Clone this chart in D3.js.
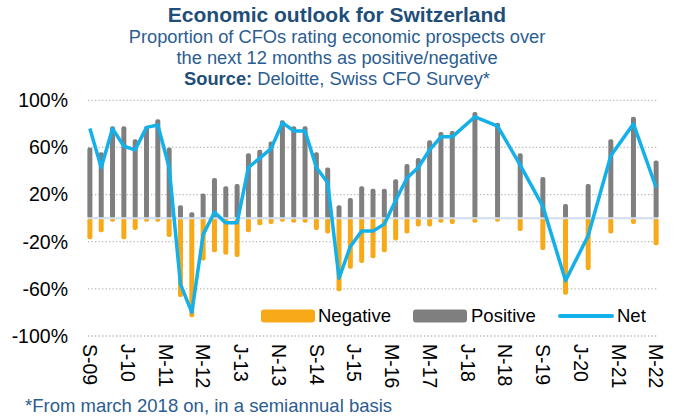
<!DOCTYPE html>
<html>
<head>
<meta charset="utf-8">
<script src="https://cdn.jsdelivr.net/npm/d3@7"></script>
<style>
  body { margin: 0; background: #fff; }
  svg { display: block; font-family: "Liberation Sans", Arial, sans-serif; }
</style>
</head>
<body>
<div id="chart"></div>
<script>
// survey dates (quarterly until Sep 2017, semiannual from Mar 2018)
const dates = [
  "2009-09","2009-12","2010-03","2010-06","2010-09","2010-12","2011-03","2011-06","2011-09","2011-12",
  "2012-03","2012-06","2012-09","2012-12","2013-03","2013-06","2013-09","2013-12","2014-03","2014-06",
  "2014-09","2014-12","2015-03","2015-06","2015-09","2015-12","2016-03","2016-06","2016-09","2016-12",
  "2017-03","2017-06","2017-09","2018-03","2018-09","2019-03","2019-09","2020-03","2020-09","2021-03",
  "2021-09","2022-03"
];
const positive = [60,56,78,78,67,78,84,60,11,5,21,34,27,29,55,58,65,83,78,78,56,43,11,17,27,25,25,33,46,51,66,73,74,90,81,55,35,12,29,67,86,49];
const negative = [-18,-12,-3,-18,-10,-3,-3,-16,-67,-84,-36,-29,-31,-33,-12,-6,-5,-3,-4,-4,-10,-13,-62,-43,-38,-34,-29,-19,-13,-7,-7,-4,-5,-4,-3,-11,-27,-65,-44,-13,-5,-23];
const net = [76,43,76,61,58,77,79,43,-56,-80,-14,5,-4,-4,43,51,59,81,74,74,43,30,-51,-24,-11,-11,-5,15,34,43,58,69,69,86,78,45,10,-53,-15,53,80,26];

const tickDates = ["2009-09","2010-07","2011-05","2012-03","2013-01","2013-11","2014-09","2015-07","2016-05","2017-03","2018-01","2018-11","2019-09","2020-07","2021-05","2022-03"];
const tickLabels = ["S-09","J-10","M-11","M-12","J-13","N-13","S-14","J-15","M-16","M-17","J-18","N-18","S-19","J-20","M-21","M-22"];
const yTicks = [-100, -60, -20, 20, 60, 100];

const width = 676, height = 416;
const blue = "#1f4e79";

const svg = d3.select("#chart").append("svg")
  .attr("width", width)
  .attr("height", height);

// month count since Sep 2009 (date axis, one unit per month)
const parse = d3.timeParse("%Y-%m");
const start = parse(dates[0]);
const monthIdx = s => d3.timeMonth.count(start, parse(s));

const x = d3.scaleLinear().domain([-0.5, 150.5]).range([88, 658]);
const y = d3.scaleLinear().domain([-100, 100]).range([336, 100.3]);

// titles
const title = svg.append("g").attr("text-anchor", "middle");
title.append("text").attr("x", 337).attr("y", 22)
  .attr("font-size", 21).attr("font-weight", "bold").attr("fill", blue)
  .text("Economic outlook for Switzerland");
title.append("text").attr("x", 337).attr("y", 43)
  .attr("font-size", 18.3).attr("fill", "#2b5d8f")
  .text("Proportion of CFOs rating economic prospects over");
title.append("text").attr("x", 337).attr("y", 64)
  .attr("font-size", 18.3).attr("fill", "#2b5d8f")
  .text("the next 12 months as positive/negative");
const src = title.append("text").attr("x", 337).attr("y", 85)
  .attr("font-size", 18.3).attr("fill", "#2b5d8f");
src.append("tspan").attr("font-weight", "bold").attr("fill", blue).text("Source:");
src.append("tspan").text(" Deloitte, Swiss CFO Survey*");

// gridlines (dotted)
svg.append("g").selectAll("line")
  .data(yTicks)
  .join("line")
  .attr("x1", x.range()[0]).attr("x2", x.range()[1])
  .attr("y1", d => y(d)).attr("y2", d => y(d))
  .attr("stroke", "#b8b8b8")
  .attr("stroke-width", 1.3)
  .attr("stroke-dasharray", "1.3,2.2");

// y axis labels
svg.append("g").selectAll("text")
  .data(yTicks)
  .join("text")
  .attr("x", 68)
  .attr("y", d => y(d))
  .attr("dy", "0.35em")
  .attr("text-anchor", "end")
  .attr("font-size", 19.5)
  .attr("fill", "#000")
  .text(d => d + "%");

const idx = d3.range(dates.length);
const bw = 5;

// positive bars
svg.append("g").selectAll("rect")
  .data(idx)
  .join("rect")
  .attr("x", i => x(monthIdx(dates[i])) - bw / 2)
  .attr("y", i => y(positive[i]))
  .attr("width", bw)
  .attr("height", i => y(0) - y(positive[i]))
  .attr("rx", 2)
  .attr("fill", "#7f7f7f");

// negative bars
svg.append("g").selectAll("rect")
  .data(idx)
  .join("rect")
  .attr("x", i => x(monthIdx(dates[i])) - bw / 2)
  .attr("y", y(0))
  .attr("width", bw)
  .attr("height", i => y(negative[i]) - y(0))
  .attr("rx", 2)
  .attr("fill", "#f7a917");

// zero line
svg.append("line")
  .attr("x1", x.range()[0]).attr("x2", x.range()[1])
  .attr("y1", y(0)).attr("y2", y(0))
  .attr("stroke", "#d0dcec")
  .attr("stroke-width", 2);

// net line
const line = d3.line()
  .x(i => x(monthIdx(dates[i])))
  .y(i => y(net[i]));
svg.append("path")
  .datum(idx)
  .attr("d", line)
  .attr("fill", "none")
  .attr("stroke", "#13b0ea")
  .attr("stroke-width", 3.5)
  .attr("stroke-linejoin", "round");

// x labels, rotated
svg.append("g").selectAll("text")
  .data(tickDates)
  .join("text")
  .attr("transform", (d, i) => `translate(${x(monthIdx(d))},344) rotate(90)`)
  .attr("dy", "0.35em")
  .attr("font-size", 19.5)
  .attr("fill", "#000")
  .text((d, i) => tickLabels[i]);

// legend
const legend = svg.append("g").attr("font-size", 18.5).attr("fill", "#000");
legend.append("rect").attr("x", 261).attr("y", 309.5).attr("width", 54).attr("height", 13).attr("rx", 3).attr("fill", "#f7a917");
legend.append("text").attr("x", 318).attr("y", 316).attr("dy", "0.35em").text("Negative");
legend.append("rect").attr("x", 413).attr("y", 309.5).attr("width", 54).attr("height", 13).attr("rx", 3).attr("fill", "#7f7f7f");
legend.append("text").attr("x", 471).attr("y", 316).attr("dy", "0.35em").text("Positive");
legend.append("line").attr("x1", 560).attr("x2", 612).attr("y1", 316).attr("y2", 316)
  .attr("stroke", "#13b0ea").attr("stroke-width", 4).attr("stroke-linecap", "round");
legend.append("text").attr("x", 617).attr("y", 316).attr("dy", "0.35em").text("Net");

// footnote
svg.append("text")
  .attr("x", 25).attr("y", 412)
  .attr("font-size", 18.5)
  .attr("fill", "#2b5d8f")
  .text("*From march 2018 on, in a semiannual basis");
</script>
</body>
</html>
